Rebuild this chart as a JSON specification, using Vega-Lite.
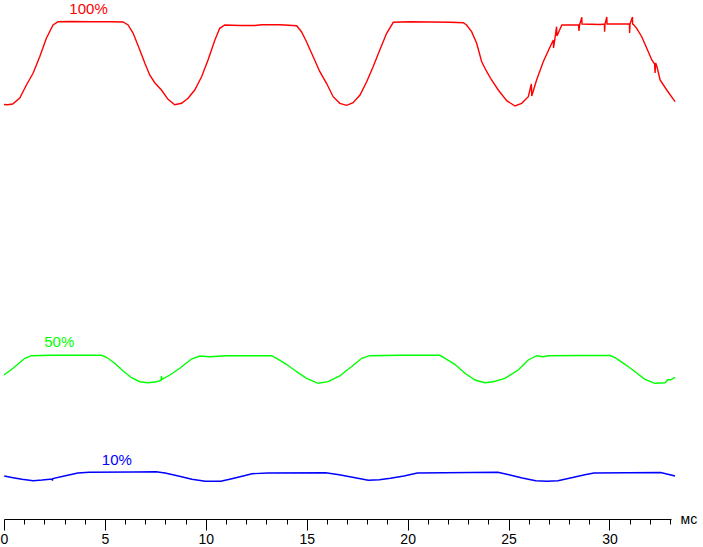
{
  "$schema": "https://vega.github.io/schema/vega-lite/v6.json",
  "width": 667,
  "height": 519,
  "autosize": "none",
  "padding": {"left": 4, "top": 0, "right": 32, "bottom": 28},
  "background": "white",
  "config": {"view": {"stroke": null}},
  "datasets": {
    "curves": [
      {"s": "100%", "t": 0.00, "v": 414.5}, {"s": "100%", "t": 0.18, "v": 414.3}, {"s": "100%", "t": 0.43, "v": 415},
      {"s": "100%", "t": 0.78, "v": 421}, {"s": "100%", "t": 1.11, "v": 434}, {"s": "100%", "t": 1.44, "v": 445.7},
      {"s": "100%", "t": 1.77, "v": 462.3}, {"s": "100%", "t": 2.10, "v": 480.7}, {"s": "100%", "t": 2.43, "v": 494},
      {"s": "100%", "t": 2.68, "v": 497.3}, {"s": "100%", "t": 3.26, "v": 497.5}, {"s": "100%", "t": 4.25, "v": 497.3},
      {"s": "100%", "t": 5.24, "v": 497.3}, {"s": "100%", "t": 5.90, "v": 497}, {"s": "100%", "t": 6.15, "v": 494},
      {"s": "100%", "t": 6.40, "v": 485.7}, {"s": "100%", "t": 6.73, "v": 469}, {"s": "100%", "t": 6.98, "v": 455.7},
      {"s": "100%", "t": 7.22, "v": 444}, {"s": "100%", "t": 7.47, "v": 436.3}, {"s": "100%", "t": 7.80, "v": 429},
      {"s": "100%", "t": 8.13, "v": 419.7}, {"s": "100%", "t": 8.46, "v": 414.3}, {"s": "100%", "t": 8.80, "v": 415.7},
      {"s": "100%", "t": 9.12, "v": 420.7}, {"s": "100%", "t": 9.45, "v": 429}, {"s": "100%", "t": 9.79, "v": 442.3},
      {"s": "100%", "t": 10.11, "v": 459}, {"s": "100%", "t": 10.45, "v": 479}, {"s": "100%", "t": 10.69, "v": 490.7},
      {"s": "100%", "t": 10.94, "v": 494}, {"s": "100%", "t": 11.69, "v": 493.5}, {"s": "100%", "t": 12.43, "v": 493.5},
      {"s": "100%", "t": 12.78, "v": 494.3}, {"s": "100%", "t": 13.67, "v": 494.3}, {"s": "100%", "t": 14.50, "v": 493.3},
      {"s": "100%", "t": 14.74, "v": 487.3}, {"s": "100%", "t": 14.99, "v": 477.3}, {"s": "100%", "t": 15.32, "v": 462.3},
      {"s": "100%", "t": 15.65, "v": 447.3}, {"s": "100%", "t": 15.98, "v": 435.7}, {"s": "100%", "t": 16.31, "v": 422.3},
      {"s": "100%", "t": 16.64, "v": 415.7}, {"s": "100%", "t": 16.98, "v": 413.7}, {"s": "100%", "t": 17.30, "v": 416.3},
      {"s": "100%", "t": 17.64, "v": 424}, {"s": "100%", "t": 17.97, "v": 437.3}, {"s": "100%", "t": 18.29, "v": 452.3},
      {"s": "100%", "t": 18.62, "v": 469}, {"s": "100%", "t": 18.96, "v": 485.7}, {"s": "100%", "t": 19.29, "v": 496.7},
      {"s": "100%", "t": 20.11, "v": 497.2}, {"s": "100%", "t": 21.11, "v": 497}, {"s": "100%", "t": 22.10, "v": 496.7},
      {"s": "100%", "t": 22.76, "v": 496.3}, {"s": "100%", "t": 22.92, "v": 494}, {"s": "100%", "t": 23.17, "v": 487.3},
      {"s": "100%", "t": 23.42, "v": 475.7}, {"s": "100%", "t": 23.67, "v": 457.3}, {"s": "100%", "t": 23.92, "v": 447.3},
      {"s": "100%", "t": 24.16, "v": 439}, {"s": "100%", "t": 24.49, "v": 429}, {"s": "100%", "t": 24.91, "v": 418.3},
      {"s": "100%", "t": 25.32, "v": 413}, {"s": "100%", "t": 25.65, "v": 415.7}, {"s": "100%", "t": 25.98, "v": 422.3},
      {"s": "100%", "t": 26.13, "v": 435}, {"s": "100%", "t": 26.15, "v": 423}, {"s": "100%", "t": 26.39, "v": 439},
      {"s": "100%", "t": 26.72, "v": 457.3}, {"s": "100%", "t": 27.06, "v": 472.3}, {"s": "100%", "t": 27.22, "v": 479},
      {"s": "100%", "t": 27.23, "v": 471}, {"s": "100%", "t": 27.30, "v": 480.7}, {"s": "100%", "t": 27.38, "v": 492.3},
      {"s": "100%", "t": 27.40, "v": 483}, {"s": "100%", "t": 27.64, "v": 494}, {"s": "100%", "t": 28.29, "v": 494},
      {"s": "100%", "t": 28.47, "v": 494}, {"s": "100%", "t": 28.49, "v": 488}, {"s": "100%", "t": 28.52, "v": 494},
      {"s": "100%", "t": 28.63, "v": 501.7}, {"s": "100%", "t": 28.64, "v": 495}, {"s": "100%", "t": 29.53, "v": 494.5},
      {"s": "100%", "t": 29.75, "v": 495}, {"s": "100%", "t": 29.76, "v": 487.3}, {"s": "100%", "t": 29.78, "v": 495},
      {"s": "100%", "t": 29.87, "v": 502}, {"s": "100%", "t": 29.88, "v": 495}, {"s": "100%", "t": 30.53, "v": 495},
      {"s": "100%", "t": 30.99, "v": 495}, {"s": "100%", "t": 31.00, "v": 486}, {"s": "100%", "t": 31.02, "v": 495},
      {"s": "100%", "t": 31.14, "v": 502}, {"s": "100%", "t": 31.15, "v": 495}, {"s": "100%", "t": 31.19, "v": 494.5},
      {"s": "100%", "t": 31.35, "v": 490.7}, {"s": "100%", "t": 31.60, "v": 482.3}, {"s": "100%", "t": 31.85, "v": 470.7},
      {"s": "100%", "t": 32.10, "v": 459}, {"s": "100%", "t": 32.24, "v": 455}, {"s": "100%", "t": 32.26, "v": 446},
      {"s": "100%", "t": 32.29, "v": 456}, {"s": "100%", "t": 32.36, "v": 452}, {"s": "100%", "t": 32.51, "v": 439},
      {"s": "100%", "t": 32.84, "v": 429}, {"s": "100%", "t": 33.25, "v": 417.3},

      {"s": "50%", "t": 0.00, "v": 144}, {"s": "50%", "t": 0.45, "v": 150.7}, {"s": "50%", "t": 1.03, "v": 160.7},
      {"s": "50%", "t": 1.36, "v": 163.3}, {"s": "50%", "t": 2.27, "v": 163.7}, {"s": "50%", "t": 3.75, "v": 163.7},
      {"s": "50%", "t": 4.83, "v": 163.7}, {"s": "50%", "t": 5.08, "v": 161.7}, {"s": "50%", "t": 5.49, "v": 155.7},
      {"s": "50%", "t": 5.90, "v": 148}, {"s": "50%", "t": 6.32, "v": 141.3}, {"s": "50%", "t": 6.73, "v": 137.3},
      {"s": "50%", "t": 7.14, "v": 136.3}, {"s": "50%", "t": 7.56, "v": 137.3}, {"s": "50%", "t": 7.78, "v": 138.5},
      {"s": "50%", "t": 7.80, "v": 143}, {"s": "50%", "t": 7.82, "v": 139.7}, {"s": "50%", "t": 8.22, "v": 144},
      {"s": "50%", "t": 8.71, "v": 150.7}, {"s": "50%", "t": 9.29, "v": 160}, {"s": "50%", "t": 9.70, "v": 163},
      {"s": "50%", "t": 10.20, "v": 162.3}, {"s": "50%", "t": 11.03, "v": 163.3}, {"s": "50%", "t": 12.18, "v": 163.3},
      {"s": "50%", "t": 13.26, "v": 163.3}, {"s": "50%", "t": 13.51, "v": 160.7}, {"s": "50%", "t": 14.00, "v": 154.7},
      {"s": "50%", "t": 14.50, "v": 147.3}, {"s": "50%", "t": 14.99, "v": 140.7}, {"s": "50%", "t": 15.57, "v": 135.7},
      {"s": "50%", "t": 16.06, "v": 137.3}, {"s": "50%", "t": 16.64, "v": 143}, {"s": "50%", "t": 16.89, "v": 147.3},
      {"s": "50%", "t": 17.22, "v": 152.3}, {"s": "50%", "t": 17.72, "v": 160.7}, {"s": "50%", "t": 18.12, "v": 163.3},
      {"s": "50%", "t": 19.62, "v": 163.7}, {"s": "50%", "t": 21.60, "v": 163.7}, {"s": "50%", "t": 21.85, "v": 160.7},
      {"s": "50%", "t": 22.34, "v": 154.7}, {"s": "50%", "t": 22.84, "v": 145.7}, {"s": "50%", "t": 23.34, "v": 139},
      {"s": "50%", "t": 23.83, "v": 136.3}, {"s": "50%", "t": 24.24, "v": 137.3}, {"s": "50%", "t": 24.82, "v": 140.7},
      {"s": "50%", "t": 25.48, "v": 149}, {"s": "50%", "t": 25.98, "v": 159}, {"s": "50%", "t": 26.39, "v": 163.3},
      {"s": "50%", "t": 26.72, "v": 162.3}, {"s": "50%", "t": 26.97, "v": 163.3}, {"s": "50%", "t": 28.54, "v": 163.5},
      {"s": "50%", "t": 30.03, "v": 163.5}, {"s": "50%", "t": 30.28, "v": 161.3}, {"s": "50%", "t": 30.77, "v": 154.7},
      {"s": "50%", "t": 31.27, "v": 147.3}, {"s": "50%", "t": 31.76, "v": 139.7}, {"s": "50%", "t": 32.26, "v": 135.7},
      {"s": "50%", "t": 32.76, "v": 136.3}, {"s": "50%", "t": 32.90, "v": 139.5}, {"s": "50%", "t": 33.01, "v": 139},
      {"s": "50%", "t": 33.25, "v": 141.7},

      {"s": "10%", "t": 0.01, "v": 43}, {"s": "10%", "t": 0.45, "v": 41.3}, {"s": "10%", "t": 0.89, "v": 39.7},
      {"s": "10%", "t": 1.45, "v": 38.3}, {"s": "10%", "t": 1.89, "v": 39}, {"s": "10%", "t": 2.38, "v": 40},
      {"s": "10%", "t": 2.40, "v": 38.5}, {"s": "10%", "t": 2.42, "v": 40.5}, {"s": "10%", "t": 2.99, "v": 43},
      {"s": "10%", "t": 3.66, "v": 46}, {"s": "10%", "t": 4.21, "v": 46.7}, {"s": "10%", "t": 6.43, "v": 47},
      {"s": "10%", "t": 7.54, "v": 47.3}, {"s": "10%", "t": 7.98, "v": 46}, {"s": "10%", "t": 8.64, "v": 43},
      {"s": "10%", "t": 9.31, "v": 39.7}, {"s": "10%", "t": 9.97, "v": 37.7}, {"s": "10%", "t": 10.74, "v": 37.7},
      {"s": "10%", "t": 11.29, "v": 40.3}, {"s": "10%", "t": 11.85, "v": 43}, {"s": "10%", "t": 12.29, "v": 45.3},
      {"s": "10%", "t": 13.07, "v": 46}, {"s": "10%", "t": 15.94, "v": 46.3}, {"s": "10%", "t": 16.61, "v": 44.3},
      {"s": "10%", "t": 17.27, "v": 41.7}, {"s": "10%", "t": 18.05, "v": 38.7}, {"s": "10%", "t": 18.60, "v": 39.3},
      {"s": "10%", "t": 19.15, "v": 40.7}, {"s": "10%", "t": 19.82, "v": 43}, {"s": "10%", "t": 20.48, "v": 46},
      {"s": "10%", "t": 24.47, "v": 46.7}, {"s": "10%", "t": 25.02, "v": 44.3}, {"s": "10%", "t": 25.68, "v": 41},
      {"s": "10%", "t": 26.35, "v": 38.3}, {"s": "10%", "t": 26.90, "v": 37.7}, {"s": "10%", "t": 27.45, "v": 38.3},
      {"s": "10%", "t": 28.12, "v": 41.3}, {"s": "10%", "t": 28.78, "v": 44.3}, {"s": "10%", "t": 29.23, "v": 46},
      {"s": "10%", "t": 32.54, "v": 46.5}, {"s": "10%", "t": 33.10, "v": 43.7}, {"s": "10%", "t": 33.25, "v": 43}
    ],
    "labels": [
      {"s": "100%", "t": 4.19, "v": 505, "text": "100%"},
      {"s": "50%", "t": 2.74, "v": 172, "text": "50%"},
      {"s": "10%", "t": 5.59, "v": 54, "text": "10%"}
    ]
  },
  "encoding": {
    "x": {
      "field": "t",
      "type": "quantitative",
      "scale": {"domain": [0, 33.05], "nice": false, "zero": false},
      "axis": {
        "values": [0, 1, 2, 3, 4, 5, 6, 7, 8, 9, 10, 11, 12, 13, 14, 15, 16, 17, 18, 19, 20, 21, 22, 23, 24, 25, 26, 27, 28, 29, 30, 31, 32, 33],
        "format": "d",
        "labelExpr": "datum.value % 5 === 0 ? datum.label : ''",
        "tickSize": {"condition": {"test": "datum.value % 5 === 0", "value": 11}, "value": 5},
        "grid": false,
        "domainColor": "black",
        "tickColor": "black",
        "labelColor": "black",
        "labelFont": "Liberation Sans",
        "labelFontSize": 14,
        "labelPadding": 2,
        "labelFlush": false,
        "labelOverlap": false,
        "title": "мс",
        "titleFont": "Liberation Sans",
        "titleFontSize": 14,
        "titleFontWeight": "normal",
        "titleColor": "black",
        "titleX": 676,
        "titleY": 4,
        "titleAlign": "left",
        "titleBaseline": "alphabetic"
      }
    },
    "y": {
      "field": "v",
      "type": "quantitative",
      "scale": {"domain": [0, 519], "nice": false},
      "axis": null
    },
    "color": {
      "field": "s",
      "type": "nominal",
      "scale": {"domain": ["100%", "50%", "10%"], "range": ["#ff0000", "#00ff00", "#0000ff"]},
      "legend": null
    }
  },
  "layer": [
    {
      "data": {"name": "curves"},
      "mark": {"type": "line", "strokeWidth": 1.4, "interpolate": "linear"}
    },
    {
      "data": {"name": "labels"},
      "mark": {"type": "text", "font": "Liberation Sans", "fontSize": 15, "align": "center", "baseline": "alphabetic"},
      "encoding": {"text": {"field": "text"}}
    }
  ]
}
